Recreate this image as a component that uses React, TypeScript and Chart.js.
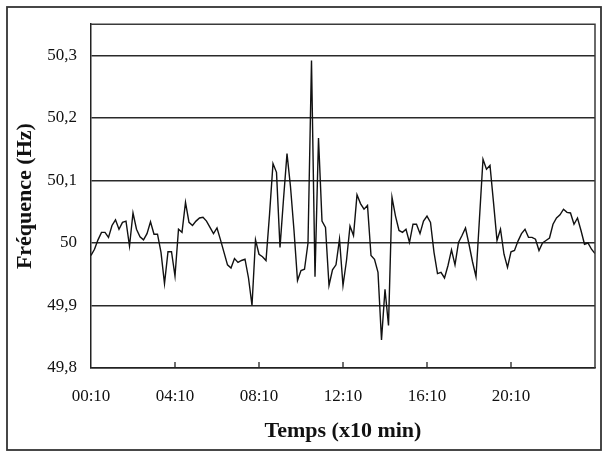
import React, { useEffect, useRef } from "react";
import { Chart, registerables } from "chart.js";

Chart.register(...registerables);

// Frequency samples every 10 minutes (Hz)
const freqValues: number[] = [
  49.980, 49.990, 50.005, 50.017, 50.017, 50.009, 50.028, 50.037, 50.022, 50.033,
  50.035, 49.995, 50.048, 50.022, 50.010, 50.005, 50.015, 50.034, 50.014, 50.014,
  49.985, 49.935, 49.986, 49.986, 49.947, 50.022, 50.017, 50.065, 50.033, 50.028,
  50.035, 50.040, 50.041, 50.035, 50.025, 50.015, 50.024, 50.005, 49.985, 49.965,
  49.960, 49.975, 49.969, 49.972, 49.974, 49.944, 49.900, 50.005, 49.982, 49.978,
  49.972, 50.045, 50.127, 50.113, 49.993, 50.070, 50.143, 50.090, 50.020, 49.940,
  49.956, 49.958, 50.000, 50.292, 49.946, 50.168, 50.035, 50.025, 49.932, 49.957,
  49.965, 50.006, 49.932, 49.972, 50.027, 50.012, 50.077, 50.063, 50.054, 50.060,
  49.980, 49.974, 49.953, 49.845, 49.926, 49.868, 50.073, 50.043, 50.020, 50.017,
  50.022, 50.001, 50.030, 50.030, 50.015, 50.035, 50.043, 50.033, 49.985, 49.951,
  49.953, 49.944, 49.964, 49.989, 49.965, 50.001, 50.012, 50.024, 49.998, 49.970,
  49.946, 50.040, 50.134, 50.118, 50.124, 50.065, 50.004, 50.022, 49.982, 49.961,
  49.986, 49.988, 50.003, 50.015, 50.022, 50.009, 50.009, 50.006, 49.988, 50.000,
  50.004, 50.008, 50.030, 50.040, 50.045, 50.054, 50.049, 50.048, 50.030, 50.040,
  50.020, 49.998, 50.000, 49.990, 49.983,
];

const xTickLabels: string[] = ["00:10", "04:10", "08:10", "12:10", "16:10", "20:10", ""];
const xTickStep = 24;
const yMin = 49.8;
const yMax = 50.35;
const yStep = 0.1;

const xTitle = "Temps (x10 min)";
const yTitle = "Fréquence (Hz)";

const FONT = "'Liberation Serif', 'Times New Roman', serif";

const decorPlugin = {
  id: "decor",
  afterDatasetsDraw(chart: any) {
    const ctx = chart.ctx;
    const { left, right, top, bottom } = chart.chartArea;
    const xs = chart.scales.x;
    ctx.save();
    // plot border (top & right)
    ctx.strokeStyle = "#3a3a3a";
    ctx.lineWidth = 1.5;
    ctx.beginPath();
    ctx.moveTo(left, top);
    ctx.lineTo(right, top);
    ctx.lineTo(right, bottom);
    ctx.stroke();
    // inward tick marks on the x axis
    ctx.strokeStyle = "#222";
    ctx.lineWidth = 1.3;
    for (const t of xs.ticks) {
      const px = xs.getPixelForValue(t.value);
      if (px <= left + 1 || px >= right - 1) continue;
      ctx.beginPath();
      ctx.moveTo(px, bottom);
      ctx.lineTo(px, bottom - 6);
      ctx.stroke();
    }
    // outer chart frame
    ctx.strokeStyle = "#333";
    ctx.lineWidth = 1.8;
    ctx.strokeRect(7, 7, 594, 443);
    ctx.restore();
  },
};

export default function App() {
  const ref = useRef<HTMLCanvasElement | null>(null);

  useEffect(() => {
    document.body.style.margin = "0";
    const canvas = ref.current;
    if (!canvas) return;
    const points = freqValues.map((v, i) => ({ x: i, y: v }));
    const chart = new Chart(canvas, {
      type: "line",
      data: {
        datasets: [
          {
            data: points,
            borderColor: "#111",
            borderWidth: 1.4,
            pointRadius: 0,
            tension: 0,
            fill: false,
          },
        ],
      },
      options: {
        animation: false,
        responsive: false,
        events: [],
        layout: { padding: { left: 0, right: 9, top: 23, bottom: 0 } },
        plugins: { legend: { display: false }, tooltip: { enabled: false } },
        scales: {
          x: {
            type: "linear",
            min: 0,
            max: freqValues.length - 1,
            afterFit: (s: any) => {
              s.height = 85;
            },
            grid: { display: false, drawTicks: false },
            border: { display: true, color: "#222", width: 1.5 },
            ticks: {
              stepSize: xTickStep,
              padding: 0,
              color: "#111",
              font: { family: FONT, size: 17, lineHeight: 3.4 },
              maxRotation: 0,
              autoSkip: false,
              callback: (v: any) => xTickLabels[Math.round(Number(v) / xTickStep)] ?? "",
            },
            title: {
              display: true,
              text: xTitle,
              color: "#111",
              font: { family: FONT, size: 22, weight: "bold" },
              padding: { top: 0, bottom: 8 },
            },
          },
          y: {
            type: "linear",
            min: yMin,
            max: yMax,
            afterFit: (s: any) => {
              s.width = 91;
            },
            afterBuildTicks: (s: any) => {
              s.ticks = s.ticks.filter(
                (t: any) => Math.abs(t.value / yStep - Math.round(t.value / yStep)) < 1e-6
              );
            },
            grid: { color: "#2a2a2a", lineWidth: 1.5, drawTicks: false },
            border: { display: true, color: "#222", width: 1.5 },
            ticks: {
              stepSize: yStep,
              padding: 14,
              color: "#111",
              font: { family: FONT, size: 17 },
              callback: (v: any) => {
                const r = Math.round(Number(v) * 10) / 10;
                return r === 50 ? "50" : r.toFixed(1).replace(".", ",");
              },
            },
            title: {
              display: true,
              text: yTitle,
              color: "#111",
              font: { family: FONT, size: 22, weight: "bold" },
              padding: { top: 12, bottom: 0 },
            },
          },
        },
      },
      plugins: [decorPlugin],
    });
    return () => chart.destroy();
  }, []);

  return (
    <div style={{ position: "absolute", left: 0, top: 0, width: 604, height: 453, background: "#fff" }}>
      <canvas ref={ref} width={604} height={453} />
    </div>
  );
}
